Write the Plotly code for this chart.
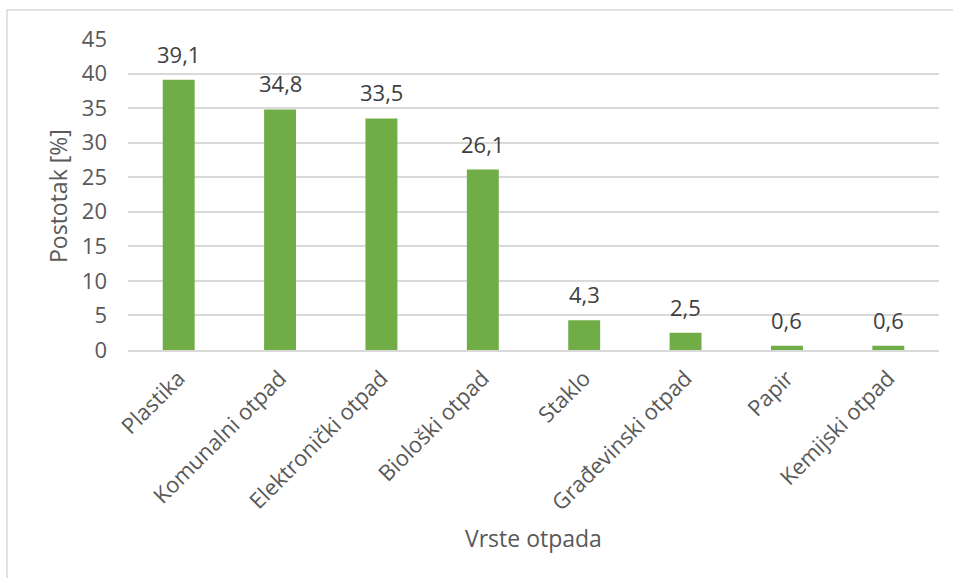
import plotly.graph_objects as go

categories = ["Plastika", "Komunalni otpad", "Elektronički otpad", "Biološki otpad",
              "Staklo", "Građevinski otpad", "Papir", "Kemijski otpad"]
values = [39.1, 34.8, 33.5, 26.1, 4.3, 2.5, 0.6, 0.6]
y_ticks = [0, 5, 10, 15, 20, 25, 30, 35, 40, 45]
x_title = "Vrste otpada"
y_title = "Postotak [%]"

FONT = "Open Sans"
BAR = "#70AD47"
GRID = "#D9D9D9"

fig = go.Figure()
fig.add_trace(go.Bar(x=categories, y=values, marker=dict(color=BAR, line=dict(width=0)),
                     hoverinfo="x+y"))

annotations = []
for c, v in zip(categories, values):
    annotations.append(dict(x=c, y=v, xref="x", yref="y", text=f"{v:.1f}".replace(".", ","),
                            showarrow=False, yanchor="bottom", yshift=9,
                            font=dict(family=FONT, size=22, color="#404040")))
annotations.append(dict(x=(533 - 128) / 811, y=(350 - 538) / 311, xref="paper", yref="paper",
                        xanchor="center", yanchor="middle", text=x_title, showarrow=False,
                        font=dict(family=FONT, size=23, color="#595959")))
annotations.append(dict(xref="paper", yref="paper", x=(58 - 128) / 811, y=(350 - 196) / 311,
                        xanchor="center", yanchor="middle",
                        text=y_title, textangle=-90, showarrow=False,
                        font=dict(family=FONT, size=23, color="#595959")))

fig.update_layout(
    width=953, height=578,
    margin=dict(l=128, r=14, t=39, b=228, pad=0),
    paper_bgcolor="white", plot_bgcolor="white",
    bargap=0.685,
    showlegend=False,
    annotations=annotations,
    font=dict(family=FONT, color="#595959"),
    xaxis=dict(showgrid=False, showline=True, linecolor=GRID, linewidth=1.5,
               tickangle=-45, tickfont=dict(family=FONT, size=22, color="#595959"),
               ticks="", ticklabelstandoff=5, automargin=False),
    yaxis=dict(range=[0, 45], tickvals=y_ticks, showgrid=True, gridcolor=GRID, gridwidth=1.5,
               zeroline=False, showline=False, ticks="", ticklabelstandoff=20,
               tickfont=dict(family=FONT, size=22, color="#595959"), automargin=False),
    shapes=[dict(type="rect", xref="paper", yref="paper",
                 x0=(7 - 128) / 811, x1=(960 - 128) / 811,
                 y0=(350 - 590) / 311, y1=(350 - 10) / 311,
                 line=dict(color="#D9D9D9", width=1.5), fillcolor="rgba(0,0,0,0)", layer="below")],
)

fig.write_html("out.html", config={"displayModeBar": False})
with open("out.html", encoding="utf-8") as f:
    html = f.read()
html = html.replace("<body>", '<body style="margin:0;padding:0;overflow:hidden">', 1)
with open("out.html", "w", encoding="utf-8") as f:
    f.write(html)
